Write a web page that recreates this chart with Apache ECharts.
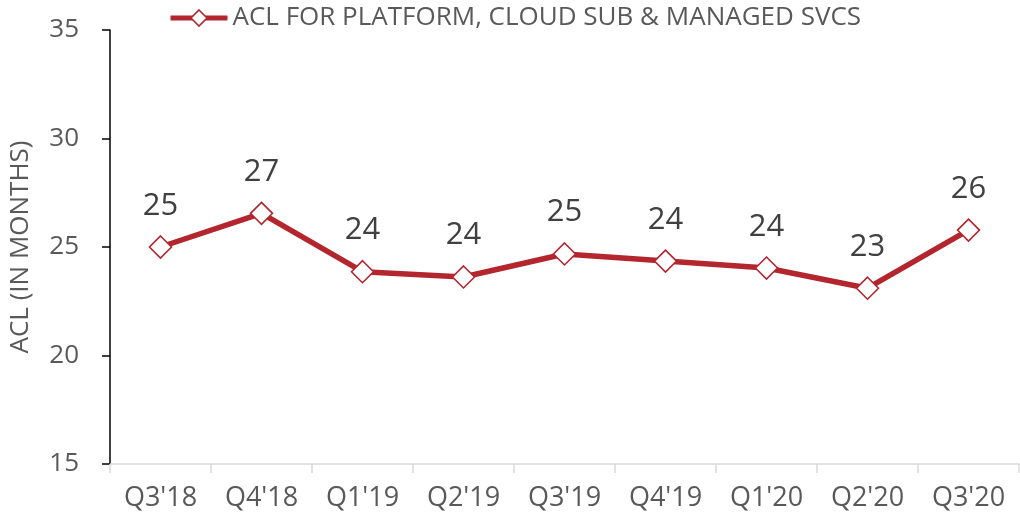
<!DOCTYPE html>
<html><head><meta charset="utf-8">
<script src="https://cdn.jsdelivr.net/npm/echarts@6/dist/echarts.min.js"></script>
<style>html,body{margin:0;padding:0;background:#fff}#c{width:1020px;height:523px}</style>
</head><body><div id="c"></div>
<script>
const categories = ["Q3'18","Q4'18","Q1'19","Q2'19","Q3'19","Q4'19","Q1'20","Q2'20","Q3'20"];
const aclValues = [25.0, 26.55, 23.86, 23.62, 24.68, 24.35, 24.03, 23.1, 25.78];
const seriesName = 'ACL FOR PLATFORM, CLOUD SUB & MANAGED SVCS';
const yTitle = 'ACL (IN MONTHS)';
const FONT = '"Open Sans", "Noto Sans", sans-serif';
const RED = '#B3262E';
const chart = echarts.init(document.getElementById('c'));
chart.setOption({
  animation: false,
  textStyle: {fontFamily: FONT},
  legend: {
    top: 0, left: 163,
    itemWidth: 57, itemHeight: 20, itemGap: 3,
    lineStyle: {width: 5, color: RED},
    itemStyle: {color: '#fff', borderColor: RED, borderWidth: 1.6},
    textStyle: {fontSize: 26, color: '#595959', fontFamily: FONT},
    data: [{name: seriesName}]
  },
  grid: {left: 102, right: 1, top: 30, bottom: 59},
  xAxis: {
    type: 'category', data: categories, boundaryGap: true,
    axisLine: {lineStyle: {color: '#d9d9d9', width: 1.5}},
    axisTick: {show: true, length: 9, lineStyle: {color: '#d9d9d9', width: 1.5}},
    axisLabel: {color: '#595959', fontSize: 27, margin: 21, fontFamily: FONT}
  },
  yAxis: {
    type: 'value', min: 15, max: 35, interval: 5,
    name: yTitle, nameLocation: 'middle', nameGap: 76, nameRotate: 90,
    nameTextStyle: {color: '#595959', fontSize: 26, fontFamily: FONT},
    axisLine: {show: true, lineStyle: {color: '#000', width: 1.5}},
    axisTick: {show: true, length: 8, lineStyle: {color: '#000', width: 1.5}},
    splitLine: {show: false},
    axisLabel: {color: '#595959', fontSize: 26, margin: 31, fontFamily: FONT}
  },
  series: [{
    name: seriesName, type: 'line', data: aclValues,
    symbol: 'diamond', symbolSize: 22,
    lineStyle: {color: RED, width: 5.5},
    itemStyle: {color: '#fff', borderColor: RED, borderWidth: 1.6},
    label: {
      show: true, position: 'top', distance: 14,
      formatter: p => Math.round(p.value),
      color: '#404040', fontSize: 31, fontFamily: FONT
    }
  }]
});
</script></body></html>
